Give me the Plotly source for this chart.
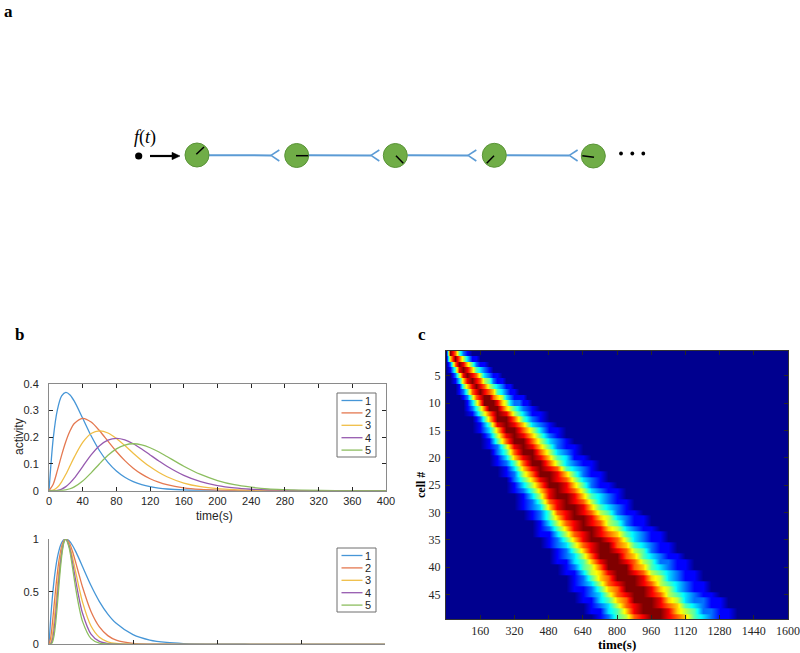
import plotly.graph_objects as go

# Layout positions are given in reference-image pixels (800 x 653) and converted to
# fractions of the figure, which fills the 800 x 653 browser viewport.
W, H = 800, 653

# ---------------- data: panel b (top) ----------------
time_s = [0, 5, 10, 15, 20, 25, 30, 40, 50, 60, 70, 80, 90, 100, 110, 120, 130, 140,
          160, 180, 200, 220, 240, 260, 280, 300, 340, 400]
activity_1 = [0, 0.1947, 0.3033, 0.3543, 0.3679, 0.3581, 0.3347, 0.2707, 0.2052, 0.1494, 0.1057,
              0.0733, 0.0500, 0.0337, 0.0225, 0.0149, 0.0098, 0.0064, 0.0027, 0.0011, 0.0005,
              0.0002, 0.0001, 0, 0, 0, 0, 0]
activity_2 = [0, 0.0243, 0.0758, 0.1329, 0.1839, 0.2238, 0.2510, 0.2707, 0.2565, 0.2240, 0.1850,
              0.1465, 0.1125, 0.0842, 0.0618, 0.0446, 0.0318, 0.0223, 0.0107, 0.0050, 0.0023,
              0.0010, 0.0004, 0.0002, 0.0001, 0, 0, 0]
activity_3 = [0, 0.0020, 0.0126, 0.0332, 0.0613, 0.0933, 0.1255, 0.1804, 0.2138, 0.2240, 0.2158,
              0.1954, 0.1687, 0.1404, 0.1133, 0.0892, 0.0689, 0.0521, 0.0286, 0.0150, 0.0076,
              0.0037, 0.0018, 0.0008, 0.0004, 0.0002, 0, 0]
activity_4 = [0, 0.0001, 0.0016, 0.0062, 0.0153, 0.0292, 0.0471, 0.0902, 0.1336, 0.1680, 0.1888,
              0.1954, 0.1898, 0.1755, 0.1558, 0.1338, 0.1120, 0.0912, 0.0572, 0.0338, 0.0190,
              0.0102, 0.0054, 0.0026, 0.0014, 0.0006, 0.0001, 0]
activity_5 = [0, 0, 0.0002, 0.0009, 0.0031, 0.0073, 0.0141, 0.0361, 0.0668, 0.1008, 0.1322,
              0.1563, 0.1708, 0.1755, 0.1714, 0.1606, 0.1456, 0.1277, 0.0915, 0.0608, 0.0380,
              0.0224, 0.0130, 0.0068, 0.0039, 0.0018, 0.0005, 0.0001]

# ---------------- data: panel b (bottom, normalised) ----------------
scaled_time = [0, 0.1, 0.2, 0.3, 0.4, 0.5, 0.6, 0.7, 0.8, 0.9, 1.0, 1.2, 1.4, 1.6, 1.8, 2.0,
               2.5, 3, 3.5, 4, 5, 6, 7, 8, 10, 12, 20]
norm_1 = [0, 0.2460, 0.4451, 0.6041, 0.7288, 0.8244, 0.8951, 0.9449, 0.9771, 0.9947, 1, 0.9825,
          0.9384, 0.8781, 0.8088, 0.7358, 0.5578, 0.4060, 0.2873, 0.1991, 0.0916, 0.0404,
          0.0174, 0.0073, 0.0012, 0.0002, 0]
norm_2 = [0, 0.0605, 0.1981, 0.3649, 0.5312, 0.6796, 0.8012, 0.8928, 0.9547, 0.9894, 1, 0.9653,
          0.8806, 0.7711, 0.6542, 0.5413, 0.3111, 0.1648, 0.0825, 0.0396, 0.0084, 0.0016,
          0.0003, 0.0001, 0, 0, 0]
norm_3 = [0, 0.0149, 0.0882, 0.2204, 0.3871, 0.5603, 0.7172, 0.8437, 0.9329, 0.9842, 1, 0.9484,
          0.8264, 0.6771, 0.5291, 0.3984, 0.1736, 0.0669, 0.0237, 0.0079, 0.0008, 0.0001,
          0, 0, 0, 0, 0]
norm_4 = [0, 0.0037, 0.0392, 0.1332, 0.2822, 0.4619, 0.6419, 0.7971, 0.9115, 0.9789, 1, 0.9318,
          0.7755, 0.5946, 0.4280, 0.2930, 0.0968, 0.0272, 0.0068, 0.0016, 0.0001, 0,
          0, 0, 0, 0, 0]
norm_5 = [0, 0.0009, 0.0175, 0.0805, 0.2057, 0.3808, 0.5746, 0.7532, 0.8906, 0.9737, 1, 0.9155,
          0.7277, 0.5221, 0.3462, 0.2156, 0.0540, 0.0110, 0.0020, 0.0003, 0, 0,
          0, 0, 0, 0, 0]

series_names = ["1", "2", "3", "4", "5"]

# ---------------- data: panel c (activity level 0-9 per cell) ----------------
# cells 1-10 sampled every 20 s
fine_time = list(range(0, 1601, 20))
cells_fine = [
    "097421",
    "0697531100",
    "02798642110",
    "014898643210",
    "00258987532110",
    "001368987542110",
    "00014689875432110",
    "000124789876432110",
    "00001257899765321110",
    "000001357999865322110",
]
# cells 11-49 sampled every 40 s
coarse_time = list(range(0, 1601, 40))
cells_coarse = [
    "000259964210",
    "000147985311",
    "000026997421",
    "0000148986321",
    "00001369975311",
    "00000258986421",
    "000001479975321",
    "0000012589864211",
    "0000002479975321",
    "00000013689864311",
    "000000124799753211",
    "000000013689874321",
    "0000000125799864211",
    "0000000024689875321",
    "00000000135799864211",
    "000000001246898753211",
    "000000000135899864321",
    "0000000001247898753211",
    "0000000001236899864321",
    "00000000001247898754211",
    "000000000012468998653211",
    "000000000001357898754211",
    "0000000000012468998653211",
    "00000000000113578987643211",
    "00000000000012468998753211",
    "000000000000123578997643211",
    "000000000000012468998754211",
    "0000000000000123579997643211",
    "00000000000001134689987542211",
    "00000000000000124579997643211",
    "000000000000001135689987543211",
    "000000000000000124679998653211",
    "0000000000000001235789987543211",
    "0000000000000001124679998653211",
    "00000000000000001235789987543211",
    "000000000000000011346799986532211",
    "000000000000000001235789987643211",
    "0000000000000000011346899986542211",
    "0000000000000000001245789987643211",
]
cell_ticks = [5, 10, 15, 20, 25, 30, 35, 40, 45]
time_ticks_c = [160, 320, 480, 640, 800, 960, 1120, 1280, 1440, 1600]

# ---------------- styles ----------------
COLORS = ["rgb(70,150,215)", "rgb(228,120,80)", "rgb(240,190,70)",
          "rgb(150,90,175)", "rgb(140,190,95)"]
JET = [[0, "rgb(0,0,143)"], [0.111, "rgb(0,0,255)"], [0.365, "rgb(0,255,255)"],
       [0.619, "rgb(255,255,0)"], [0.873, "rgb(255,0,0)"], [1, "rgb(128,0,0)"]]
SANS = "Liberation Sans, Arial, sans-serif"
SERIF = "Liberation Serif, Times New Roman, serif"
AX_GRAY = "#8a8a8a"
TXT = "#262626"


def px(x):  # reference pixel -> paper fraction
    return x / W


def py(y):
    return 1 - y / H


fig = go.Figure()

# panel b top
for name, ys, col in zip(series_names,
                         [activity_1, activity_2, activity_3, activity_4, activity_5], COLORS):
    fig.add_trace(go.Scatter(x=time_s, y=ys, mode="lines", name=name,
                             line=dict(color=col, width=1.3, shape="spline", smoothing=0.8),
                             xaxis="x", yaxis="y", showlegend=False))
# panel b bottom
for name, ys, col in zip(series_names, [norm_1, norm_2, norm_3, norm_4, norm_5], COLORS):
    fig.add_trace(go.Scatter(x=scaled_time, y=ys, mode="lines", name=name,
                             line=dict(color=col, width=1.3, shape="spline", smoothing=0.8),
                             xaxis="x2", yaxis="y2", showlegend=False))


# panel c heatmap: each cell row is drawn as a flat strip
def stepped(rows, first_cell, ncol):
    z, y = [], []
    for i, r in enumerate(rows):
        vals = [int(c) for c in r] + [0] * (ncol - len(r))
        for off in (-0.4995, -0.499, 0.499, 0.4995):
            z.append(vals)
            y.append(first_cell + i + off)
    return z, y


# coarse strip also carries cell 10 (its 40 s samples) underneath the fine strip
cell10_coarse = cells_fine[-1][::2]
z_c, y_c = stepped([cell10_coarse] + cells_coarse, len(cells_fine), len(coarse_time))
z_f, y_f = stepped(cells_fine, 1, len(fine_time))
for xs, ys, zs in [(coarse_time, y_c, z_c), (fine_time, y_f, z_f)]:
    fig.add_trace(go.Heatmap(x=xs, y=ys, z=zs, zmin=0, zmax=9, colorscale=JET,
                             showscale=False, zsmooth="best", hoverinfo="skip",
                             xaxis="x3", yaxis="y3"))

tick_common = dict(ticks="inside", ticklen=4, tickcolor=TXT, showgrid=False, zeroline=False,
                   showline=True, linewidth=1, automargin=False)

fig.update_layout(
    autosize=True, margin=dict(l=0, r=0, t=0, b=0, pad=0, autoexpand=False),
    paper_bgcolor="white", plot_bgcolor="white", showlegend=False,
    xaxis=dict(domain=[px(49), px(386)], range=[0, 400], tickvals=list(range(0, 401, 40)),
               linecolor=AX_GRAY, mirror="ticks", anchor="y",
               tickfont=dict(family=SANS, size=11, color=TXT), **tick_common),
    yaxis=dict(domain=[py(490.7), py(383.7)], range=[0, 0.4],
               tickvals=[0, 0.1, 0.2, 0.3, 0.4], ticktext=["0", "0.1", "0.2", "0.3", "0.4"],
               linecolor=AX_GRAY, mirror="ticks", anchor="x", ticklabelstandoff=7,
               tickfont=dict(family=SANS, size=11, color=TXT), **tick_common),
    xaxis2=dict(domain=[px(49), px(385)], range=[0, 20], tickvals=[0, 5, 10, 15, 20],
                showticklabels=False, linecolor=AX_GRAY, anchor="y2", **tick_common),
    yaxis2=dict(domain=[py(644.3), py(539)], range=[0, 1], tickvals=[0, 0.5, 1],
                ticktext=["0", "0.5", "1"], linecolor=AX_GRAY, anchor="x2", ticklabelstandoff=7,
                tickfont=dict(family=SANS, size=11, color=TXT), **tick_common),
    xaxis3=dict(domain=[px(446), px(788)], range=[0, 1600], tickvals=time_ticks_c,
                linecolor="#333333", mirror="ticks", anchor="y3",
                tickfont=dict(family=SERIF, size=12, color=TXT), **tick_common),
    yaxis3=dict(domain=[py(619.3), py(351)], range=[49.5, 0.5], tickvals=cell_ticks,
                linecolor="#333333", mirror="ticks", anchor="x3", ticklabelstandoff=2,
                tickfont=dict(family=SERIF, size=12, color=TXT), **tick_common),
)

ann = []


def label(text, x, y, font, angle=0):
    ann.append(dict(text=text, x=px(x), y=py(y), xref="paper", yref="paper", showarrow=False,
                    xanchor="center", yanchor="middle", textangle=angle, font=font))


# panel letters
for letter, (x, y) in zip(["a", "b", "c"], [(8, 12), (19, 334), (422, 334)]):
    label(letter, x, y, dict(family=SERIF, size=17, color="black", weight="bold"))
# axis titles
label("activity", 19, 437, dict(family=SANS, size=12, color=TXT), -90)
label("time(s)", 214, 516, dict(family=SANS, size=12, color=TXT))
label("cell #", 421, 485, dict(family=SERIF, size=12, color="black", weight="bold"), -90)
label("time(s)", 617, 644, dict(family=SERIF, size=13, color="black", weight="bold"))
# f(t)
label("<i>f</i>(<i>t</i>)", 145, 137, dict(family=SERIF, size=18, color="black"))

shapes = []


def line(x0, y0, x1, y1, color, width):
    shapes.append(dict(type="line", xref="paper", yref="paper", x0=px(x0), y0=py(y0),
                       x1=px(x1), y1=py(y1), line=dict(color=color, width=width)))


def circle(cx, cy, r, fill, lcol, lw):
    shapes.append(dict(type="circle", xref="paper", yref="paper", x0=px(cx - r), x1=px(cx + r),
                       y0=py(cy + r), y1=py(cy - r), fillcolor=fill,
                       line=dict(color=lcol, width=lw)))


# manual legends
for top in (393, 548):
    shapes.append(dict(type="rect", xref="paper", yref="paper", x0=px(337), x1=px(376),
                       y0=py(top + 64), y1=py(top), fillcolor="white",
                       line=dict(color="#6e6e6e", width=1)))
    for i, (name, col) in enumerate(zip(series_names, COLORS)):
        yy = top + 7.5 + 12.4 * i
        line(341.5, yy, 362.5, yy, col, 1.3)
        label(name, 367.5, yy, dict(family=SANS, size=11, color=TXT))

# panel a diagram
BLUE = "#5b9bd5"
neuron_x = [197, 296.7, 395.3, 494.3, 593.3]
neuron_y = [155, 155.5, 155.5, 155.3, 156]
fork_x = [271, 371, 468, 569.3]
for i, fx in enumerate(fork_x):
    line(neuron_x[i] + 12, 155.2, fx, 155.4, BLUE, 2)
    line(fx, 155.4, fx + 8.3, 150, BLUE, 1.6)
    line(fx, 155.4, fx + 8.3, 161, BLUE, 1.6)
for cx, cy in zip(neuron_x, neuron_y):
    circle(cx, cy, 12, "#70ad47", "#5a9438", 1)
hands = [((196.3, 154.3), (204, 147)), ((296, 155.7), (308.3, 155.7)),
         ((396, 155.7), (403.3, 163.3)), ((486.7, 163.3), (494, 155.7)),
         ((582.3, 155.7), (594, 157.3))]
for (a0, a1) in hands:
    line(a0[0], a0[1], a1[0], a1[1], "black", 1.5)
# input dot and arrow
circle(138.7, 156, 3.6, "black", "black", 0)
line(150, 156, 175, 156, "black", 2.2)
shapes.append(dict(type="path", xref="paper", yref="paper",
                   path=f"M {px(172)},{py(152.3)} L {px(180)},{py(156)} L {px(172)},{py(159.7)} Z",
                   fillcolor="black", line=dict(color="black", width=0.5)))
for dx in (621, 632.3, 643.3):
    circle(dx, 153.5, 1.9, "black", "black", 0)

fig.update_layout(annotations=ann, shapes=shapes)
fig.write_html(
    "out.html",
    config={"displayModeBar": False, "responsive": True},
    default_width="100vw",
    default_height="100vh",
    post_script=("document.documentElement.style.overflow='hidden';"
                 "document.body.style.margin='0';document.body.style.overflow='hidden';"
                 "Plotly.Plots.resize(document.getElementById('{plot_id}'));"),
)
